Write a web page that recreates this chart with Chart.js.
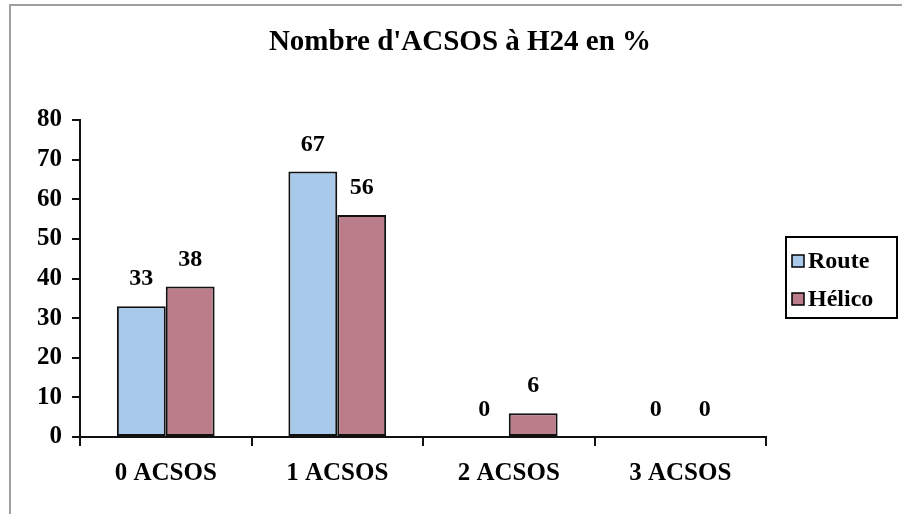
<!DOCTYPE html>
<html>
<head>
<meta charset="utf-8">
<script src="https://cdn.jsdelivr.net/npm/chart.js@4.4.1/dist/chart.umd.min.js"></script>
<style>
  html, body { margin: 0; padding: 0; background: #fff; }
  #wrap { position: relative; width: 902px; height: 514px; }
</style>
</head>
<body>
<div id="wrap"><canvas id="acsosChart" width="902" height="514"></canvas></div>
<script>
    // Chart data
    const chartTitle = "Nombre d'ACSOS à H24 en %";
    const categories = ['0 ACSOS', '1 ACSOS', '2 ACSOS', '3 ACSOS'];
    const routeValues = [33, 67, 0, 0];
    const helicoValues = [38, 56, 6, 0];
    const yTicks = [0, 10, 20, 30, 40, 50, 60, 70, 80];

    const serif = "'Liberation Serif', 'Times New Roman', serif";

    // Grey frame, title, value labels and boxed legend
    const decorPlugin = {
        id: 'decor',
        beforeDraw(chart) {
            const ctx = chart.ctx;
            ctx.save();
            ctx.fillStyle = '#fff';
            ctx.fillRect(0, 0, chart.width, chart.height);
            ctx.strokeStyle = '#a0a0a0';
            ctx.lineWidth = 2;
            ctx.beginPath();
            ctx.moveTo(10, chart.height);
            ctx.lineTo(10, 5);
            ctx.lineTo(chart.width, 5);
            ctx.stroke();
            ctx.restore();
        },
        afterDraw(chart) {
            const ctx = chart.ctx;
            ctx.save();

            // title
            ctx.fillStyle = '#000';
            ctx.font = "bold 29px " + serif;
            ctx.textAlign = 'center';
            ctx.textBaseline = 'middle';
            ctx.fillText(chartTitle, 460, 43);

            // value labels over the bars
            ctx.font = "bold 24px " + serif;
            chart.data.datasets.forEach((ds, i) => {
                const meta = chart.getDatasetMeta(i);
                meta.data.forEach((bar, j) => {
                    ctx.fillText(String(ds.data[j]), bar.x, bar.y - 27);
                });
            });

            // legend box
            const lx = 786, ly = 237, lw = 111, lh = 81;
            ctx.strokeStyle = '#000';
            ctx.lineWidth = 2;
            ctx.strokeRect(lx, ly, lw, lh);
            ctx.font = "bold 24px " + serif;
            ctx.textAlign = 'left';
            ctx.lineWidth = 1.5;
            chart.data.datasets.forEach((ds, i) => {
                const cy = ly + 24 + i * 38;
                ctx.fillStyle = ds.backgroundColor;
                ctx.fillRect(lx + 6, cy - 6, 12, 12);
                ctx.strokeRect(lx + 6, cy - 6, 12, 12);
                ctx.fillStyle = '#000';
                ctx.fillText(ds.label, lx + 22, cy + 1);
            });
            ctx.restore();
        }
    };

    const ctx = document.getElementById('acsosChart').getContext('2d');

    new Chart(ctx, {
        type: 'bar',
        data: {
            labels: categories,
            datasets: [{
                label: 'Route',
                data: routeValues,
                backgroundColor: '#a9c9ea',
                borderColor: '#111',
                borderWidth: 2,
                borderSkipped: false
            }, {
                label: 'Hélico',
                data: helicoValues,
                backgroundColor: '#bb7d89',
                borderColor: '#111',
                borderWidth: 2,
                borderSkipped: false
            }]
        },
        options: {
            responsive: false,
            animation: false,
            devicePixelRatio: 1,
            layout: {
                padding: { left: 10, right: 136, top: 120, bottom: 0 }
            },
            categoryPercentage: 0.57,
            barPercentage: 1.0,
            plugins: {
                legend: { display: false },
                title: { display: false },
                tooltip: { enabled: false }
            },
            scales: {
                x: {
                    offset: true,
                    grid: {
                        offset: true,
                        drawOnChartArea: false,
                        drawTicks: true,
                        tickLength: 9,
                        color: '#111',
                        lineWidth: 2
                    },
                    border: { color: '#111', width: 2 },
                    ticks: {
                        color: '#000',
                        padding: 13,
                        font: { family: serif, size: 25, weight: 'bold' }
                    },
                    afterFit(scale) { scale.height = 77; }
                },
                y: {
                    min: 0,
                    max: 80,
                    afterBuildTicks(scale) {
                        scale.ticks = yTicks.map(v => ({ value: v }));
                    },
                    grid: {
                        drawOnChartArea: false,
                        drawTicks: true,
                        tickLength: 8,
                        color: '#111',
                        lineWidth: 2
                    },
                    border: { color: '#111', width: 2 },
                    ticks: {
                        color: '#000',
                        padding: 10,
                        font: { family: serif, size: 25, weight: 'bold' }
                    },
                    afterFit(scale) { scale.width = 70; }
                }
            }
        },
        plugins: [decorPlugin]
    });
</script>
</body>
</html>
